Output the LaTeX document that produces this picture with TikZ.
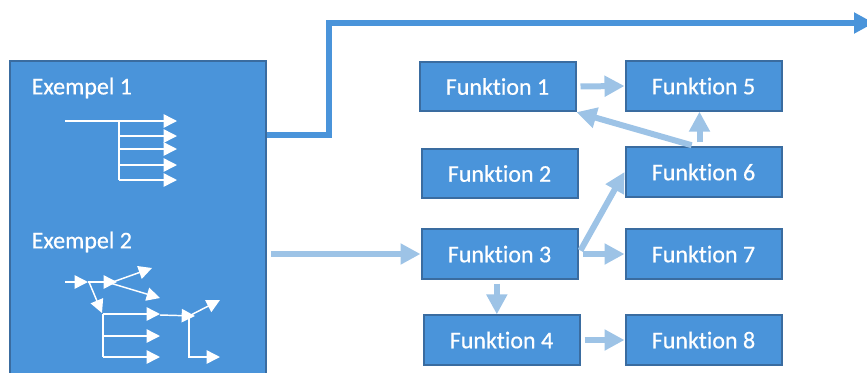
\documentclass[tikz,border=0pt]{standalone}
\usepackage{fontspec}
\setmainfont[Ligatures=NoCommon,UprightFeatures={FakeBold=0.6}]{Carlito}
\usepackage{tikz}
\usetikzlibrary{arrows}
\usetikzlibrary{arrows.meta}
\definecolor{boxblue}{RGB}{74,148,218}
\definecolor{boxedge}{RGB}{58,108,160}
\definecolor{lightblue}{RGB}{157,195,230}

\begin{document}
\begin{tikzpicture}[x=0.75pt,y=-0.75pt]
\tikzstyle{every node}=[font=\fontsize{18}{22}\selectfont,text=white]
\tikzstyle{funk}=[draw=boxedge,line width=1.5pt,fill=boxblue,minimum width=117pt,minimum height=37pt,inner sep=0pt]
\tikzstyle{flow}=[draw=lightblue,line width=4.5pt,-{Triangle[length=15pt,width=15pt]},shorten <=3pt]
\tikzstyle{wire}=[draw=white,line width=1.1pt]
\tikzstyle{warr}=[wire,-{Triangle[length=10pt,width=10pt]}]
\useasboundingbox (0,0) rectangle (867,372);
\clip (0,0) rectangle (867,372);
% the example box, running off the bottom
\node[funk,minimum width=192pt,minimum height=254pt] (ex) at (138,230) {};
\node[anchor=west] (ex1) at (27,88) {Exempel 1};
\node[anchor=west] (ex2) at (27,242) {Exempel 2};
% functions
\node[funk] (f1) at (497.5,86.5) {Funktion 1};
\node[funk] (f5) at (703.5,86) {Funktion 5};
\node[funk] (f2) at (499.5,173.5) {Funktion 2};
\node[funk] (f6) at (703.5,172) {Funktion 6};
\node[funk] (f3) at (499.5,254) {Funktion 3};
\node[funk] (f7) at (703.5,254) {Funktion 7};
\node[funk] (f4) at (501.5,340) {Funktion 4};
\node[funk] (f8) at (703.5,340) {Funktion 8};
% way out at the top
\coordinate (out) at (874,23);
\draw[boxblue,line width=4.5pt,-{Triangle[length=15pt,width=15pt]}]
  (ex.east |- 0,135) -- (329,135) |- (out);
% arrows between the functions
\path[flow] (ex.east |- f3) -- (f3.west);
\path[flow] (f1.east) -- (f5.west);
\path[flow] ([xshift=-3pt]f6.north) -- ([xshift=-3pt]f5.south);
\path[flow] ([xshift=-6pt]f6.north) -- (f1.south east);
\path[flow] (f3.east) -- (f6.west);
\path[flow] (f3.east) -- (f7.west);
\path[flow] ([xshift=-2pt]f3.south) -- ([xshift=-2pt]f3.south |- f4.north);
\path[flow] (f4.east) -- (f8.west);
% sketch 1
\draw[warr] (65,121) -- (177,121);
\draw[wire] (119,121) -- (119,180);
\foreach \y in {136,149,165,180}
  \draw[warr] (119,\y) -- (177,\y);
% sketch 2
\draw[warr] (65,282) -- (88,282);
\draw[warr] (88,282) -- (117,282);
\draw[warr] (89,282) -- (102,313);
\draw[warr] (110,283) -- (152,268);
\draw[warr] (110,283) -- (160,298);
\draw[wire] (103,314) -- (103,357);
\foreach \y in {314,336,357}
  \draw[warr] (103,\y) -- (160,\y);
\draw[warr] (160,315) -- (195,316);
\draw[warr] (189,316) -- (220,300);
\draw[warr] (189,316) -- (189,357) -- (220,357);
\end{tikzpicture}
\end{document}
